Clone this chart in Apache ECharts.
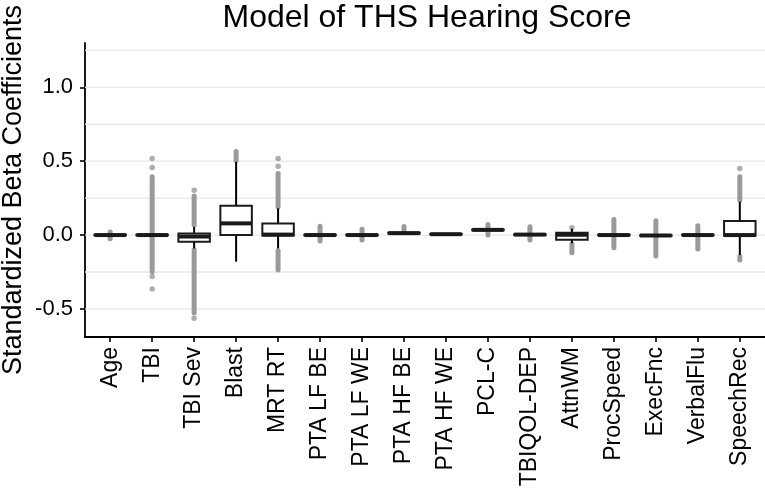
<!DOCTYPE html>
<html><head><meta charset="utf-8">
<script src="https://cdn.jsdelivr.net/npm/echarts@6/dist/echarts.min.js"></script>
<style>html,body{margin:0;padding:0;background:#fff}#c{width:765px;height:490px}</style>
</head><body><div id="c"></div>
<script>
const categories = ['Age','TBI','TBI Sev','Blast','MRT RT','PTA LF BE','PTA LF WE','PTA HF BE','PTA HF WE','PCL-C','TBIQOL-DEP','AttnWM','ProcSpeed','ExecFnc','VerbalFlu','SpeechRec'];
const lowWhisker  = [-0.005,-0.004,-0.090,-0.180,-0.090,-0.004,-0.004, 0.009, 0.002, 0.031,-0.002,-0.056,-0.004,-0.007,-0.004,-0.135];
const q1          = [-0.002,-0.002,-0.045, 0.000,-0.003,-0.002,-0.002, 0.011, 0.004, 0.033, 0.001,-0.032,-0.002,-0.005,-0.002,-0.005];
const median      = [ 0.000, 0.000,-0.010, 0.079, 0.003, 0.000, 0.000, 0.013, 0.006, 0.035, 0.003, 0.002, 0.000,-0.003, 0.000, 0.000];
const q3          = [ 0.002, 0.002, 0.010, 0.198, 0.078, 0.002, 0.002, 0.015, 0.008, 0.037, 0.005, 0.016, 0.002,-0.001, 0.002, 0.095];
const highWhisker = [ 0.005, 0.004, 0.055, 0.495, 0.180, 0.004, 0.004, 0.017, 0.010, 0.039, 0.008, 0.043, 0.004, 0.001, 0.004, 0.225];
// outlier streaks: [category index, low, high]
const outlierRanges = [
  [0,-0.025,0.020],[1,-0.248,0.394],[2,0.068,0.264],[2,-0.527,-0.100],[3,0.505,0.565],
  [4,0.190,0.417],[4,-0.236,-0.105],[5,-0.040,0.060],[6,-0.034,0.040],[7,0.025,0.058],
  [9,0.000,0.072],[10,-0.034,0.056],[11,-0.120,-0.062],[12,-0.086,0.106],[13,-0.142,0.097],
  [14,-0.095,0.063],[15,0.235,0.394],[15,-0.169,-0.145]
];
// isolated outlier points: [category index, value]
const outlierPoints = [[1,0.518],[1,0.457],[1,-0.280],[1,-0.365],[2,0.304],[2,-0.563],[4,0.518],[4,0.465],[11,0.050],[15,0.450]];
const yTickValues = [-0.5, 0.0, 0.5, 1.0];
const gridValues = [-0.5,-0.25,0,0.25,0.5,0.75,1.0,1.25];

const FONT = 'Liberation Sans, Arial, Helvetica, sans-serif';
const boxData = categories.map((c,i)=>[i, lowWhisker[i], q1[i], median[i], q3[i], highWhisker[i]]);
const catIdx = categories.map((c,i)=>i);

const chart = echarts.init(document.getElementById('c'), null, {renderer:'canvas'});
chart.setOption({
  animation:false,
  backgroundColor:'#fff',
  title:{text:'Model of THS Hearing Score', left:422, textAlign:'center', top:-3,
    textStyle:{fontSize:32, fontWeight:'normal', color:'#000', fontFamily:FONT}},
  grid:{left:85, right:0, top:43, bottom:153, containLabel:false, outerBoundsMode:'none'},
  xAxis:{type:'value', min:-0.6, max:15.6,
    axisLine:{show:true, onZero:false, lineStyle:{color:'#000', width:1.8}},
    axisTick:{show:true, customValues:catIdx, length:5, lineStyle:{color:'#000', width:1.6}},
    axisLabel:{show:true, customValues:catIdx, rotate:90, margin:10, fontSize:23, color:'#000', fontFamily:FONT,
      formatter:v=>categories[Math.round(v)]},
    splitLine:{show:false}},
  yAxis:{type:'value', min:-0.69, max:1.30,
    name:'Standardized Beta Coefficients', nameLocation:'middle', nameGap:58, nameMoveOverlap:false,
    nameTextStyle:{fontSize:27, color:'#000', fontFamily:FONT},
    axisLine:{show:true, onZero:false, lineStyle:{color:'#000', width:1.8}},
    axisTick:{show:true, customValues:yTickValues, length:5, lineStyle:{color:'#000', width:1.6}},
    axisLabel:{show:true, customValues:yTickValues, margin:12, fontSize:22, color:'#000', fontFamily:FONT,
      formatter:v=>v.toFixed(1)},
    splitLine:{show:false}},
  series:[
    {type:'custom', z:1, silent:true, data:gridValues.map(v=>[v]),
      encode:{y:0},
      renderItem:(p,api)=>{
        const a = api.coord([-0.6, api.value(0)]);
        const b = api.coord([15.6, api.value(0)]);
        return {type:'line', shape:{x1:a[0],y1:a[1],x2:b[0],y2:b[1]}, style:{stroke:'#e8e8e8', lineWidth:1.3}};
      }},
    {type:'custom', z:2, silent:true, data:outlierRanges, encode:{x:0, y:[1,2]},
      renderItem:(p,api)=>{
        const a = api.coord([api.value(0), api.value(1)]);
        const b = api.coord([api.value(0), api.value(2)]);
        return {type:'line', shape:{x1:a[0],y1:a[1],x2:b[0],y2:b[1]}, style:{stroke:'#9a9a9a', lineWidth:5, lineCap:'round'}};
      }},
    {type:'scatter', z:3, silent:true, data:outlierPoints, symbol:'circle', symbolSize:5.5,
      itemStyle:{color:'#9a9a9a'}},
    {type:'custom', z:4, silent:true, data:boxData, encode:{x:0, y:[1,2,3,4,5]},
      renderItem:(p,api)=>{
        const x = api.value(0);
        const lo = api.coord([x, api.value(1)]);
        const b1 = api.coord([x, api.value(2)]);
        const md = api.coord([x, api.value(3)]);
        const b3 = api.coord([x, api.value(4)]);
        const hi = api.coord([x, api.value(5)]);
        const w = api.size([0.75, 0])[0];
        const cx = lo[0];
        return {type:'group', children:[
          {type:'line', shape:{x1:cx,y1:hi[1],x2:cx,y2:b3[1]}, style:{stroke:'#000', lineWidth:2}},
          {type:'line', shape:{x1:cx,y1:b1[1],x2:cx,y2:lo[1]}, style:{stroke:'#000', lineWidth:2}},
          {type:'rect', shape:{x:cx-w/2, y:b3[1], width:w, height:Math.max(b1[1]-b3[1],0.5)}, style:{fill:'#fff', stroke:'#1a1a1a', lineWidth:2}},
          {type:'line', shape:{x1:cx-w/2,y1:md[1],x2:cx+w/2,y2:md[1]}, style:{stroke:'#1a1a1a', lineWidth:4}}
        ]};
      }}
  ]
});
</script></body></html>
